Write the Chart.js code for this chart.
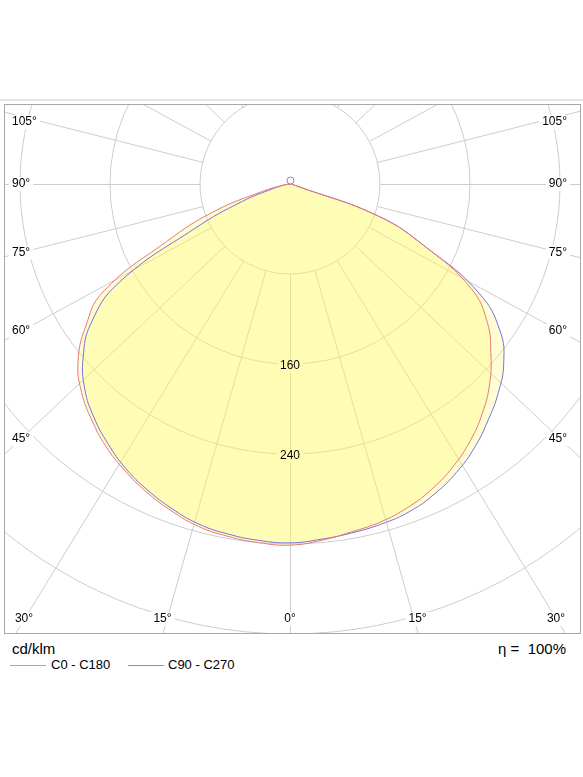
<!DOCTYPE html>
<html>
<head>
<meta charset="utf-8">
<title>Light distribution</title>
<script src="https://cdn.jsdelivr.net/npm/chart.js@4.4.1/dist/chart.umd.min.js"></script>
<style>
  body { margin: 0; width: 583px; height: 777px; position: relative; overflow: hidden; background: #fff;
         font-family: "Liberation Sans", Arial, sans-serif; color: #000; }
  #rule { position: absolute; left: 0; top: 99px; width: 583px; height: 2px; background: #e4e4e4; }
  #frame { position: absolute; left: 4px; top: 104px; width: 577px; height: 530px; box-sizing: border-box;
           border: 1px solid #a8a8a8; overflow: hidden; }
  #ldc { position: absolute; left: -165px; top: -371px; }
  .txt { position: absolute; white-space: pre; }
  .big { font-size: 15px; line-height: 18px; top: 640px; }
  .leg { font-size: 13px; line-height: 16px; top: 657px; }
  .swatch { position: absolute; top: 665px; width: 36px; height: 1px; }
</style>
</head>
<body>
<div id="rule"></div>
<div id="frame"><canvas id="ldc" width="900" height="900"></canvas></div>
<div class="txt big" style="left:12px">cd/klm</div>
<div class="txt big" style="right:17px">η =  100%</div>
<div class="swatch" style="left:10px;background:#ee8a8a"></div>
<div class="txt leg" id="leg0" style="left:51px"></div>
<div class="swatch" style="left:128px;background:#8a86e6"></div>
<div class="txt leg" id="leg1" style="left:168px"></div>
<script>
// gamma angles (deg from straight down) and intensities in cd/klm
const gammaSteps = [0, 5, 10, 15, 20, 25, 30, 35, 40, 45, 50, 55, 60, 65, 70, 75, 80, 85, 90];
const c0   = [321, 318, 314, 311, 306, 299, 290, 279, 266, 251, 233, 214, 186, 134, 84, 5, 2, 1, 0];
const c180 = [321, 320, 318, 315, 309, 302, 294, 285, 274, 262, 246, 222, 192, 121, 73, 26, 7, 2, 0];
const c90  = [319, 317, 315, 313, 310, 304, 296, 286, 274, 262, 248, 228, 194, 134, 84, 5, 2, 1, 0];
const c270 = [319, 318, 316, 313, 307, 300, 292, 282, 271, 258, 240, 216, 176, 93, 45, 15, 5, 1, 0];

const seriesNames = ['C0 - C180', 'C90 - C270'];
const ringLabels = [160, 240];
const sideAngles = [45, 60, 75, 90, 105];
const bottomAngles = [0, 15, 30];

const lineColors = ['#ea7878', '#7670e2'];
const fillColor = 'rgba(255,246,90,0.26)';
const gridColor = '#cdcdcd';
const SKEW = 1.06; // rays of the original grid are a little flattened

document.getElementById('leg0').textContent = seriesNames[0];
document.getElementById('leg1').textContent = seriesNames[1];

// radar runs clockwise from the bottom: left half first (C180 / C270), then the right half
const radarAngles = [];
for (let a = 0; a < 360; a += 5) radarAngles.push(a);

function lookup(arr, g) {
  const i = gammaSteps.indexOf(g);
  return i < 0 ? 0 : arr[i]; // no upward light
}
function plane(left, right) {
  return radarAngles.map(a => a <= 180 ? lookup(left, a) : lookup(right, 360 - a));
}
const redPlane = plane(c180, c0);
const bluePlane = plane(c270, c90);

function rayDir(g, side) {
  const a = g * Math.PI / 180;
  const dx = side * SKEW * Math.sin(a), dy = Math.cos(a);
  const n = Math.hypot(dx, dy);
  return [dx / n, dy / n];
}

function labelSpots(r) {
  const spots = [];
  sideAngles.forEach(g => [-1, 1].forEach(side => {
    const a = g * Math.PI / 180;
    const t = 270 / (SKEW * Math.sin(a));
    spots.push({text: g + '°', x: side < 0 ? -278 : 277, y: Math.max(t * Math.cos(a), -62),
                align: side < 0 ? 'left' : 'right'});
  }));
  bottomAngles.forEach(g => (g === 0 ? [1] : [-1, 1]).forEach(side => {
    const x = side * Math.min(SKEW * Math.tan(g * Math.PI / 180) * 449, 266);
    spots.push({text: g + '°', x: x, y: 435, align: 'center'});
  }));
  ringLabels.forEach(v => spots.push({text: String(v), x: 0, y: r.getDistanceFromCenterForValue(v) + 2, align: 'center'}));
  return spots;
}

const polarDecor = {
  id: 'polarDecor',
  beforeDatasetsDraw(chart) {
    const r = chart.scales.r, ctx = chart.ctx;
    const cx = r.xCenter + 0.5, cy = r.yCenter + 0.5;
    const inner = r.getDistanceFromCenterForValue(80);
    ctx.save();
    ctx.strokeStyle = gridColor;
    ctx.lineWidth = 1;
    ctx.beginPath();
    for (let g = 0; g <= 180; g += 15) {
      (g === 0 || g === 180 ? [1] : [-1, 1]).forEach(side => {
        const [ux, uy] = rayDir(g, side);
        ctx.moveTo(cx + ux * inner, cy + uy * inner);
        ctx.lineTo(cx + ux * 700, cy + uy * 700);
      });
    }
    ctx.stroke();
    // clear the grid behind the labels
    ctx.font = '12px "Liberation Sans", Arial, sans-serif';
    ctx.fillStyle = '#fff';
    labelSpots(r).forEach(s => {
      const w = ctx.measureText(s.text).width;
      const left = s.align === 'left' ? s.x : s.align === 'right' ? s.x - w : s.x - w / 2;
      ctx.fillRect(r.xCenter + left - 3, r.yCenter + s.y - 7, w + 6, 14);
    });
    ctx.restore();
  },
  afterDatasetsDraw(chart) {
    const r = chart.scales.r, ctx = chart.ctx;
    ctx.save();
    ctx.font = '12px "Liberation Sans", Arial, sans-serif';
    ctx.fillStyle = '#000';
    ctx.textBaseline = 'middle';
    labelSpots(r).forEach(s => {
      ctx.textAlign = s.align;
      ctx.fillText(s.text, r.xCenter + s.x, r.yCenter + s.y);
    });
    // luminaire marker
    ctx.beginPath();
    ctx.arc(r.xCenter + 0.5, r.yCenter - 3.5, 3.5, 0, Math.PI * 2);
    ctx.fillStyle = '#fffbe8';
    ctx.fill();
    ctx.strokeStyle = '#8a7fd0';
    ctx.lineWidth = 1;
    ctx.stroke();
    ctx.restore();
  }
};

const lineOpts = {pointRadius: 0, tension: 0.45};

new Chart(document.getElementById('ldc'), {
  type: 'radar',
  data: {
    labels: radarAngles.map(a => a + '°'),
    datasets: [
      {label: seriesNames[0], data: redPlane, borderColor: lineColors[0], borderWidth: 1, fill: false, ...lineOpts},
      {label: seriesNames[1], data: bluePlane, borderColor: lineColors[1], borderWidth: 1, fill: false, ...lineOpts},
      {label: 'fill C0', data: redPlane, borderWidth: 0, backgroundColor: fillColor, fill: true, ...lineOpts},
      {label: 'fill C90', data: bluePlane, borderWidth: 0, backgroundColor: fillColor, fill: true, ...lineOpts}
    ]
  },
  options: {
    responsive: false,
    animation: false,
    events: [],
    layout: {padding: 0},
    plugins: {legend: {display: false}, title: {display: false}, tooltip: {enabled: false}},
    scales: {
      r: {
        min: 0,
        max: 400,
        startAngle: 180,
        ticks: {display: false, stepSize: 80},
        grid: {circular: true, color: gridColor, lineWidth: 1},
        angleLines: {display: false},
        pointLabels: {display: false}
      }
    }
  },
  plugins: [polarDecor]
});
</script>
</body>
</html>
